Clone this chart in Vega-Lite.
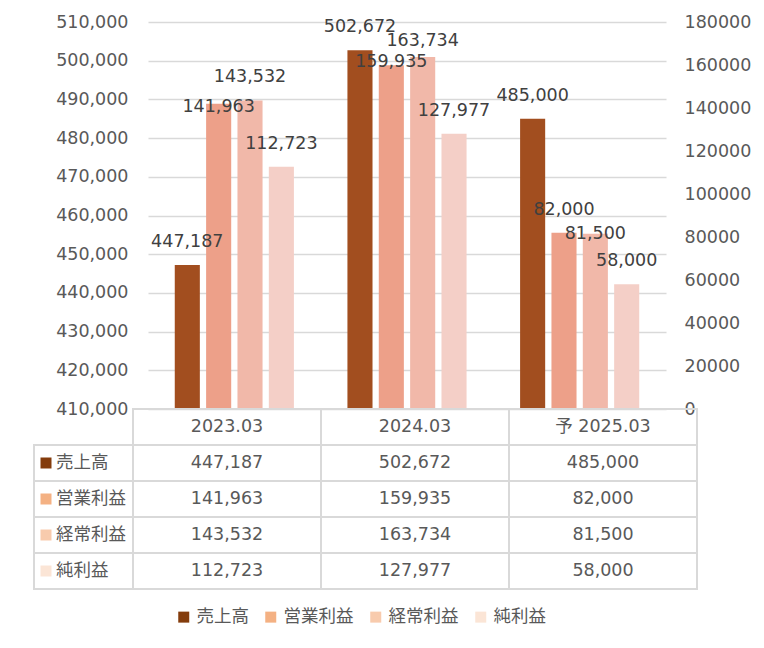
{
  "$schema": "https://vega.github.io/schema/vega-lite/v6.json",
  "padding": {"left": 33, "top": 13, "right": 5, "bottom": 5},
  "background": "white",
  "config": {"view": {"stroke": null}},
  "datasets": {
    "main": [
      {"year": "2023.03", "series": "売上高", "value": 447187},
      {"year": "2023.03", "series": "営業利益", "value": 141963},
      {"year": "2023.03", "series": "経常利益", "value": 143532},
      {"year": "2023.03", "series": "純利益", "value": 112723},
      {"year": "2024.03", "series": "売上高", "value": 502672},
      {"year": "2024.03", "series": "営業利益", "value": 159935},
      {"year": "2024.03", "series": "経常利益", "value": 163734},
      {"year": "2024.03", "series": "純利益", "value": 127977},
      {"year": "予 2025.03", "series": "売上高", "value": 485000},
      {"year": "予 2025.03", "series": "営業利益", "value": 82000},
      {"year": "予 2025.03", "series": "経常利益", "value": 81500},
      {"year": "予 2025.03", "series": "純利益", "value": 58000}
    ]
  },
  "bounds": "flush",
  "spacing": 0,
  "resolve": {"scale": {"color": "independent"}, "legend": {"color": "independent"}},
  "vconcat": [
    {
      "width": 533,
      "height": 387,
      "data": {"name": "main"},
      "encoding": {
        "x": {"field": "year", "type": "nominal", "sort": null, "axis": null,
              "scale": {"range": [15, 533], "paddingInner": 0.31, "paddingOuter": 0.155}},
        "xOffset": {"field": "series", "type": "nominal", "sort": null,
                    "scale": {"domain": ["売上高", "営業利益", "経常利益", "純利益"], "paddingInner": 0.2, "paddingOuter": 0}},
        "color": {"field": "series", "type": "nominal", "legend": null,
                  "scale": {"domain": ["売上高", "営業利益", "経常利益", "純利益"], "range": ["#A24E1F", "#EDA089", "#F1B8A9", "#F4CFC7"]}}
      },
      "layer": [
        {
          "transform": [{"filter": "datum.series === '売上高'"}],
          "mark": {"type": "bar"},
          "encoding": {
            "y": {"field": "value", "type": "quantitative",
                  "scale": {"domain": [410000, 510000], "zero": false, "nice": false},
                  "axis": {"values": [410000, 420000, 430000, 440000, 450000, 460000, 470000, 480000, 490000, 500000, 510000],
                           "format": ",.0f", "title": null, "grid": true, "gridColor": "#D9D9D9", "gridWidth": 1.3,
                           "domain": false, "ticks": false, "labelFont": "DejaVu Sans", "labelFontSize": 17.5,
                           "labelColor": "#595959", "labelPadding": 5}},
            "y2": {"datum": 410000}
          }
        },
        {
          "transform": [{"filter": "datum.series !== '売上高'"}],
          "mark": {"type": "bar"},
          "encoding": {
            "y": {"field": "value", "type": "quantitative",
                  "scale": {"domain": [0, 180000], "nice": false},
                  "axis": {"orient": "right", "values": [0, 20000, 40000, 60000, 80000, 100000, 120000, 140000, 160000, 180000],
                           "format": "d", "title": null, "grid": false,
                           "domain": false, "ticks": false, "labelFont": "DejaVu Sans", "labelFontSize": 17.5,
                           "labelColor": "#595959", "labelPadding": 18}}
          }
        },
        {
          "transform": [{"filter": "datum.series === '売上高'"}],
          "mark": {"type": "text", "dy": -23, "baseline": "middle", "align": "center", "font": "DejaVu Sans", "fontSize": 17.5, "color": "#404040"},
          "encoding": {
            "y": {"field": "value", "type": "quantitative", "axis": null,
                  "scale": {"domain": [410000, 510000], "zero": false, "nice": false}},
            "color": {"value": "#404040"},
            "text": {"field": "value", "type": "quantitative", "format": ",.0f"}
          }
        },
        {
          "transform": [{"filter": "datum.series !== '売上高'"}],
          "mark": {"type": "text", "baseline": "middle", "align": "center", "font": "DejaVu Sans", "fontSize": 17.5, "color": "#404040",
                   "dy": {"expr": "datum.series === '営業利益' && datum.year === '2023.03' ? 3 : datum.series === '営業利益' && datum.year === '2024.03' ? -3 : datum.series === '経常利益' && datum.year === '2024.03' ? -16 : datum.series === '経常利益' && datum.year === '予 2025.03' ? 0 : -23"}},
          "encoding": {
            "y": {"field": "value", "type": "quantitative", "axis": null,
                  "scale": {"domain": [0, 180000], "nice": false}},
            "color": {"value": "#404040"},
            "text": {"field": "value", "type": "quantitative", "format": ",.0f"}
          }
        }
      ],
      "resolve": {"scale": {"y": "independent"}}
    },
    {
      "width": 564,
      "height": 180,
      "data": {"name": "main"},
      "encoding": {
        "y": {"field": "series", "type": "nominal", "axis": null,
              "scale": {"domain": ["header", "売上高", "営業利益", "経常利益", "純利益"], "paddingInner": 0, "paddingOuter": 0}}
      },
      "layer": [
        {"mark": {"type": "rect", "fill": "transparent", "stroke": "#D9D9D9", "strokeWidth": 2},
         "encoding": {"x": {"field": "year", "type": "nominal", "sort": null, "axis": null,
                            "scale": {"paddingInner": 0, "paddingOuter": 0}}}},
        {"transform": [{"filter": "datum.series === '売上高'"}],
         "mark": {"type": "rect", "fill": "transparent", "stroke": "#D9D9D9", "strokeWidth": 2},
         "encoding": {"x": {"field": "year", "type": "nominal", "sort": null},
                      "y": {"datum": "header", "type": "nominal"}}},
        {"transform": [{"filter": "datum.year === '2023.03'"}],
         "mark": {"type": "rect", "fill": "transparent", "stroke": "#D9D9D9", "strokeWidth": 2},
         "encoding": {"x": {"value": -99}, "x2": {"value": 0}}},
        {"transform": [{"filter": "datum.year === '2023.03'"}],
         "mark": {"type": "point", "shape": "square", "filled": true, "size": 121, "opacity": 1},
         "encoding": {
           "x": {"value": -87},
           "color": {"field": "series", "type": "nominal",
                     "scale": {"domain": ["売上高", "営業利益", "経常利益", "純利益"], "range": ["#843C0C", "#F4B183", "#F8CBAD", "#FBE5D6"]},
                     "legend": {"orient": "none", "legendX": 42, "legendY": 199, "direction": "horizontal", "title": null,
                                "symbolType": "square", "symbolSize": 121, "symbolStrokeWidth": 0,
                                "labelFont": "Noto Sans CJK JP", "labelFontSize": 17.5, "labelColor": "#595959",
                                "labelOffset": 4, "columnPadding": 13}}
         }},
        {"transform": [{"filter": "datum.year === '2023.03'"}],
         "mark": {"type": "text", "align": "left", "baseline": "middle", "font": "Noto Sans CJK JP", "fontSize": 17.5, "color": "#595959"},
         "encoding": {"x": {"value": -77}, "text": {"field": "series", "type": "nominal"}}},
        {"mark": {"type": "text", "align": "center", "baseline": "middle", "font": "DejaVu Sans", "fontSize": 17.5, "color": "#595959"},
         "encoding": {"x": {"field": "year", "type": "nominal", "sort": null},
                      "text": {"field": "value", "type": "quantitative", "format": ",.0f"}}},
        {"transform": [{"filter": "datum.series === '売上高'"}],
         "mark": {"type": "text", "align": "center", "baseline": "middle", "font": "DejaVu Sans, Noto Sans CJK JP", "fontSize": 17.5, "color": "#595959"},
         "encoding": {"x": {"field": "year", "type": "nominal", "sort": null},
                      "y": {"datum": "header", "type": "nominal"},
                      "text": {"field": "year", "type": "nominal"}}}
      ]
    }
  ]
}
